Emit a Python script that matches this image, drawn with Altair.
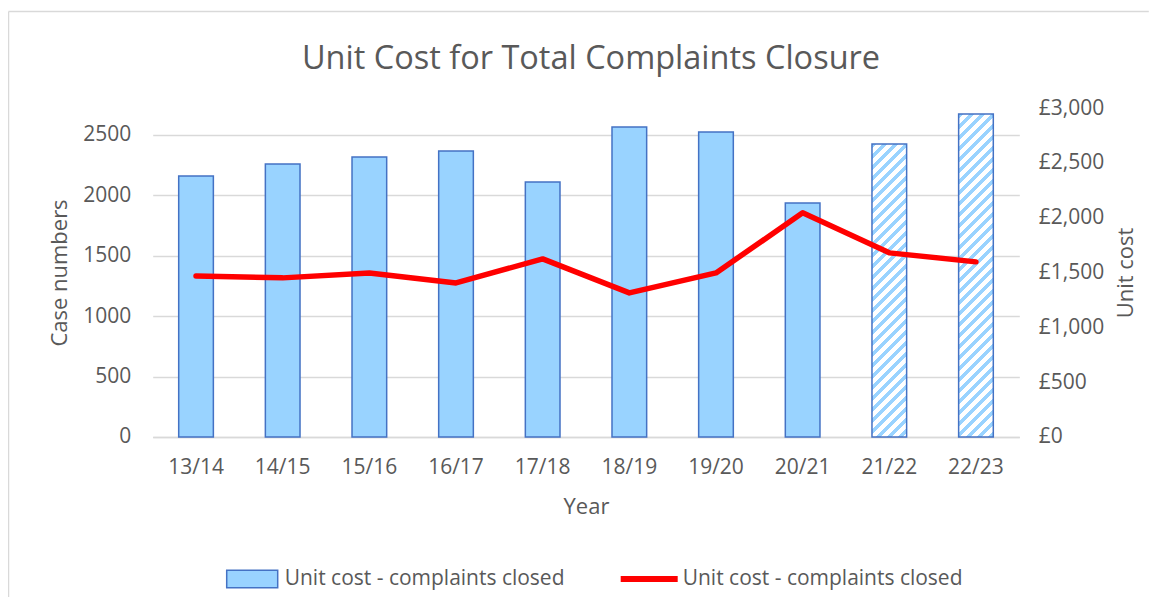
import altair as alt
import pandas as pd

# ---------------- data ----------------
years = ["13/14", "14/15", "15/16", "16/17", "17/18", "18/19", "19/20", "20/21", "21/22", "22/23"]
case_numbers = [2160, 2260, 2318, 2368, 2111, 2566, 2525, 1937, 2425, 2674]
unit_cost = [1469, 1451, 1496, 1405, 1624, 1314, 1496, 2044, 1679, 1597]
projected = [False, False, False, False, False, False, False, False, True, True]
left_ticks = [0, 500, 1000, 1500, 2000, 2500]
right_ticks = [0, 500, 1000, 1500, 2000, 2500, 3000]
bar_label = "Unit cost - complaints closed"
line_label = "Unit cost - complaints closed "  # trailing space keeps the two legend domains distinct

df = pd.DataFrame({
    "year": years,
    "cases": case_numbers,
    "cost": unit_cost,
    "projected": projected,
    "bar_series": bar_label,
    "line_series": line_label,
})

# ---------------- style ----------------
FONT = "Open Sans"
TXT = "#595959"
BLUE = "#99D3FF"
EDGE = "#4472C4"
RED = "#FF0000"
GRID = "#D9D9D9"
W, H = 866.6, 329
LEFT_MAX, RIGHT_MAX = 2723, 3000
P_IN, P_OUT = 0.6, 0.3
PAD = {"left": 144.7, "top": 100, "right": 129.5, "bottom": 160}
STEP = W / (len(years) - P_IN + 2 * P_OUT)
BANDW = STEP * (1 - P_IN)
PERIOD = 11.0      # vertical period of the hatch stripes (px)
BLUE_FRAC = 0.45   # share of each period that is blue
BAR_SYM = 51       # legend symbol widths (px)
LINE_SYM = 57


def hatch(value):
    """Diagonal '/' stripes built from a hard-stop linear gradient."""
    w = BANDW
    h = value / LEFT_MAX * H
    n = (w + h) / PERIOD
    stops = []
    i = 0
    while i < n:
        a = i / n
        b = min((i + BLUE_FRAC) / n, 1.0)
        c = min((i + 1) / n, 1.0)
        stops += [
            alt.GradientStop(color=BLUE, offset=a),
            alt.GradientStop(color=BLUE, offset=b),
            alt.GradientStop(color="#FFFFFF", offset=b),
            alt.GradientStop(color="#FFFFFF", offset=c),
        ]
        i += 1
    d = w * w + h * h
    return alt.LinearGradient(
        gradient="linear", stops=stops,
        x1=0, y1=0, x2=w * (w + h) / d, y2=h * (w + h) / d,
    )


x_enc = alt.X(
    "year:N", sort=years,
    scale=alt.Scale(paddingInner=P_IN, paddingOuter=P_OUT),
    axis=alt.Axis(
        title="Year", labelAngle=0, labelFont=FONT, labelFontSize=21, labelColor=TXT,
        labelPadding=20, ticks=False, tickSize=0, domain=True, domainColor=GRID,
        domainWidth=1.5, titleFont=FONT, titleFontSize=22, titleColor=TXT,
        titleFontWeight="normal", titleY=70, titleBaseline="middle",
    ),
)

y_left = alt.Y(
    "cases:Q",
    scale=alt.Scale(domain=[0, LEFT_MAX], nice=False, zero=True),
    axis=alt.Axis(
        orient="left", values=left_ticks, format="d", title="Case numbers",
        labelFont=FONT, labelFontSize=21, labelColor=TXT, labelPadding=22,
        ticks=False, tickSize=0, domain=False, grid=True, gridColor=GRID, gridWidth=1.3,
        titleFont=FONT, titleFontSize=22, titleColor=TXT, titleFontWeight="normal",
        titleAngle=270, titleX=-93, titleY=H / 2, titleAlign="center", titleBaseline="middle",
    ),
)

solid = alt.Chart(df).transform_filter(alt.datum.projected == False).mark_bar(
    stroke=EDGE, strokeWidth=1.5
).encode(
    x=x_enc,
    y=y_left,
    fill=alt.Fill(
        "bar_series:N",
        scale=alt.Scale(domain=[bar_label], range=[BLUE]),
        legend=alt.Legend(
            title=None, orient="none", legendX=73, legendY=470 - BAR_SYM / 2, padding=0,
            symbolType="M-1,-0.34H1V0.34H-1Z", symbolSize=BAR_SYM * BAR_SYM,
            symbolStrokeColor=EDGE, symbolStrokeWidth=1.5, symbolFillColor=BLUE,
            labelFont=FONT, labelFontSize=21, labelColor=TXT, labelOffset=6,
            labelLimit=500,
        ),
    ),
)

hatched_layers = []
for yr, v, p in zip(years, case_numbers, projected):
    if p:
        hatched_layers.append(
            alt.Chart(df).transform_filter(alt.datum.year == yr).mark_bar(
                fill=hatch(v), stroke=EDGE, strokeWidth=1.5
            ).encode(x=x_enc, y=y_left)
        )

bars = alt.layer(solid, *hatched_layers)

line = alt.Chart(df).mark_line(
    strokeWidth=5.5, strokeJoin="round", strokeCap="round"
).encode(
    x=x_enc,
    y=alt.Y(
        "cost:Q",
        scale=alt.Scale(domain=[0, RIGHT_MAX], nice=False),
        axis=alt.Axis(
            orient="right", values=right_ticks, labelExpr="'£' + format(datum.value, ',')",
            title="Unit cost", labelFont=FONT, labelFontSize=21, labelColor=TXT,
            labelPadding=19, ticks=False, tickSize=0, domain=False, grid=False,
            titleFont=FONT, titleFontSize=22, titleColor=TXT, titleFontWeight="normal",
            titleAngle=270, titleX=106, titleY=H / 2, titleAlign="center", titleBaseline="middle",
        ),
    ),
    stroke=alt.Stroke(
        "line_series:N",
        scale=alt.Scale(domain=[line_label], range=[RED]),
        legend=alt.Legend(
            title=None, orient="none", legendX=465, legendY=468 - LINE_SYM / 2, padding=0,
            symbolType="stroke", symbolSize=LINE_SYM * LINE_SYM, symbolStrokeWidth=6,
            symbolStrokeColor=RED,
            labelFont=FONT, labelFontSize=21, labelColor=TXT, labelOffset=2,
            labelLimit=500,
        ),
    ),
)

# light frame of the chart area (left and top edges are visible)
frame_df = pd.DataFrame({"k": [0]})
frame_left = alt.Chart(frame_df).mark_rule(color=GRID, strokeWidth=1.5).encode(
    x=alt.value(-PAD["left"] + 0.5), y=alt.value(-PAD["top"] + 3.5), y2=alt.value(H + PAD["bottom"])
)
frame_top = alt.Chart(frame_df).mark_rule(color=GRID, strokeWidth=1.5).encode(
    x=alt.value(-PAD["left"] + 0.5), x2=alt.value(W + PAD["right"]), y=alt.value(-PAD["top"] + 3.5)
)

chart = alt.layer(bars, line, frame_left, frame_top).resolve_scale(
    y="independent"
).properties(
    width=W,
    height=H,
    autosize=alt.AutoSizeParams(type="none"),
    padding=PAD,
    title=alt.TitleParams(
        text="Unit Cost for Total Complaints Closure", font=FONT, fontSize=32.5,
        fontWeight="normal", color=TXT, anchor="middle", frame="group",
        baseline="alphabetic", offset=-91, dx=5,
    ),
).configure(font=FONT).configure_view(stroke="transparent", strokeWidth=0)

chart.save("out.html", embed_options={"renderer": "svg", "actions": False})
